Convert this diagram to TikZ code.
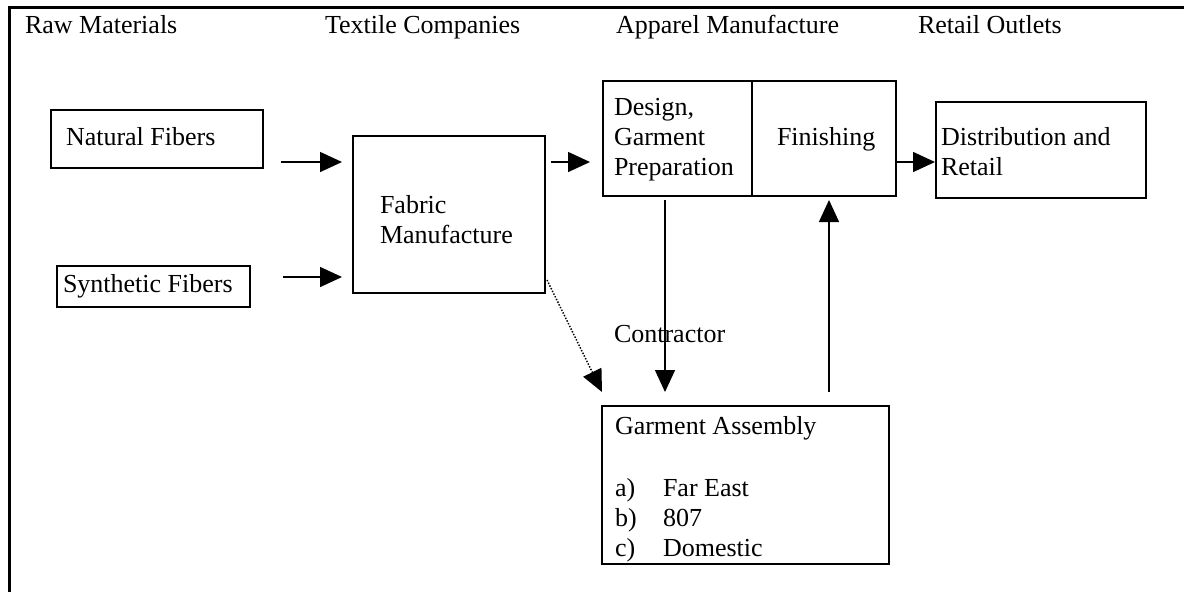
\documentclass[tikz,border=0pt]{standalone}
\usepackage{fontspec}
\setmainfont{Liberation Serif}
\usetikzlibrary{arrows.meta}
\tikzset{
  box/.style={draw, line width=1.6pt, inner sep=0pt, outer sep=0pt, anchor=north west},
  txt/.style={inner sep=0pt, outer sep=0pt, anchor=base west, font=\fontsize{26pt}{30pt}\selectfont},
  arr/.style={line width=1.5pt, -{Triangle[length=22pt,width=20pt]}},
  dotarr/.style={line width=1.5pt, dash pattern=on 1.4pt off 1.6pt, -{Triangle[length=22pt,width=20pt]}},
  frame/.style={line width=3pt}
}
\begin{document}
\begin{tikzpicture}[x=1pt,y=-1pt]
\useasboundingbox (0,0) rectangle (1184,592);
\fill[white] (0,0) rectangle (1184,592);
% outer frame
\draw[frame] (1184,7) -- (9.5,7) -- (9.5,592);
% column headings
\node[txt] (h1) at (25,33) {Raw Materials};
\node[txt] (h2) at (325,33) {Textile Companies};
\node[txt] (h3) at (616,33) {Apparel Manufacture};
\node[txt] (h4) at (918,33) {Retail Outlets};
% boxes
\node[box, minimum width=212pt, minimum height=58pt] (nat) at (51,110) {};
\node[txt] (natT) at (66,145) {Natural Fibers};
\node[box, minimum width=193pt, minimum height=41pt] (syn) at (57,266) {};
\node[txt] (synT) at (63,292) {Synthetic Fibers};
\node[box, minimum width=192pt, minimum height=157pt] (fab) at (353,136) {};
\node[txt] (fabT1) at (380,213) {Fabric};
\node[txt] (fabT2) at (380,243) {Manufacture};
\node[box, minimum width=149pt, minimum height=115pt] (des) at (603,81) {};
\node[txt] (desT1) at (614,115) {Design,};
\node[txt] (desT2) at (614,145) {Garment};
\node[txt] (desT3) at (614,175) {Preparation};
\node[box, minimum width=144pt, minimum height=115pt] (fin) at (752,81) {};
\node[txt] (finT) at (777,145) {Finishing};
\node[box, minimum width=210pt, minimum height=96pt] (dis) at (936,102) {};
\node[txt] (disT1) at (941,145) {Distribution and};
\node[txt] (disT2) at (941,175) {Retail};
\node[box, minimum width=287pt, minimum height=158pt] (gar) at (602,406) {};
\node[txt] (garT) at (615,434) {Garment Assembly};
\node[txt] (garA) at (615,496) {\makebox[48pt][l]{a)}Far East};
\node[txt] (garB) at (615,526) {\makebox[48pt][l]{b)}807};
\node[txt] (garC) at (615,556) {\makebox[48pt][l]{c)}Domestic};
\node[txt] (con) at (614,342) {Contractor};
% connectors
\draw[arr] ([xshift=18pt,yshift=6pt]nat.south east) -- ([xshift=-11pt,yshift=-26pt]fab.north west);
\draw[arr] ([xshift=33pt,yshift=9.5pt]syn.east) -- ([xshift=-11pt,yshift=16pt]fab.south west);
\draw[arr] ([xshift=6pt,yshift=-26pt]fab.north east) -- ([xshift=-13pt,yshift=-81pt]des.north west);
\draw[arr] ([yshift=34pt]fin.south east) -- ([xshift=-1pt,yshift=36pt]dis.south west);
\draw[arr] ([xshift=62pt,yshift=-4pt]des.south west) -- ([xshift=63pt,yshift=14pt]gar.north west);
\draw[arr] ([xshift=227pt,yshift=14pt]gar.north west) -- ([xshift=77pt,yshift=-4pt]fin.south west);
\draw[dotarr] ([xshift=2pt,yshift=13pt]fab.south east) -- ([yshift=14pt]gar.north west);
\end{tikzpicture}
\end{document}
